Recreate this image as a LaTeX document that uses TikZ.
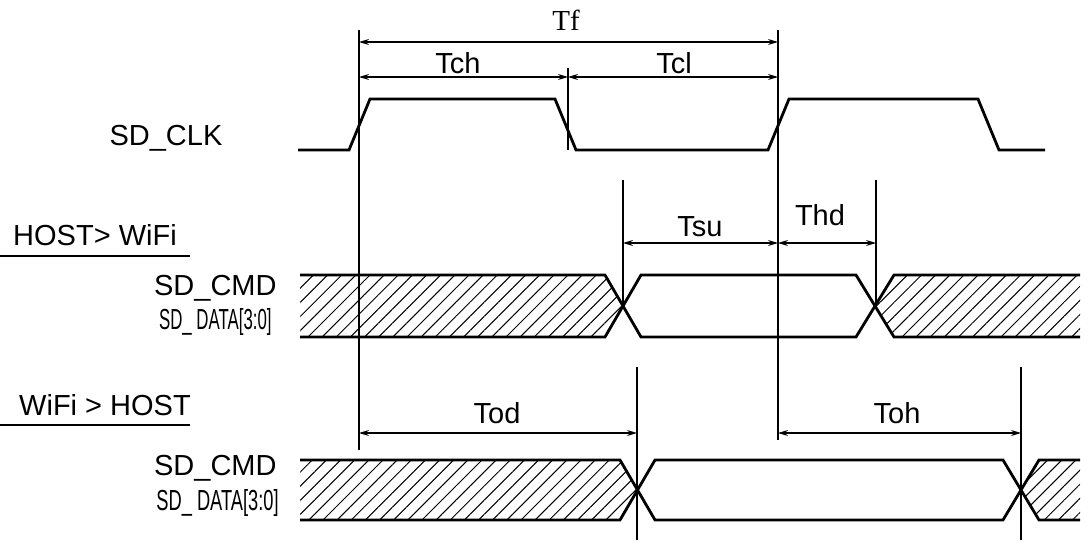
\documentclass[tikz,border=0pt]{standalone}
\usepackage{fontspec}
\setmainfont{Liberation Sans}
\usetikzlibrary{arrows.meta,patterns.meta}
\begin{document}
\begin{tikzpicture}[x=0.5pt,y=-0.5pt,
 sig/.style={line width=1.4pt},
 thin/.style={line width=0.6pt},
 dim/.style={line width=0.6pt,{Stealth[length=5pt,width=3pt]}-{Stealth[length=5pt,width=3pt]}},
 hatch/.style={pattern={Lines[angle=45,distance=5pt,line width=0.5pt]},pattern color=black},
 lbl/.style={font=\fontsize{14.5}{16}\selectfont,inner sep=0pt},
 rl/.style={lbl,anchor=east}]
\useasboundingbox (0,0) rectangle (1092,546);
% clock
\draw[sig] (298,150)--(349,150)--(370,99)--(555,99)--(576,150)--(768,150)--(789,99)--(978,99)--(999,150)--(1045,150);
\node[lbl] (clk) at (166,138) {SD\_CLK};
% verticals
\coordinate (a1) at (359,30); \coordinate (a2) at (359,450);
\coordinate (b1) at (568,68); \coordinate (b2) at (568,150);
\coordinate (c1) at (778,30); \coordinate (c2) at (778,440);
\coordinate (d1) at (623,180); \coordinate (d2) at (623,306);
\coordinate (e1) at (876,180); \coordinate (e2) at (876,306);
\coordinate (f1) at (637,367); \coordinate (f2) at (637,540);
\coordinate (g1) at (1021,367); \coordinate (g2) at (1021,540);
\foreach \p in {a,b,c,d,e,f,g} \draw[thin] (\p1)--(\p2);
% dims
\draw[dim] (359,42)--(778,42); \node[font=\fontsize{14.5}{16}\selectfont] (tf) at (566,20) {\fontspec{Liberation Serif}Tf};
\draw[dim] (359,77)--(568,77); \node[lbl] (tch) at (458,63) {Tch};
\draw[dim] (568,77)--(778,77); \node[lbl] (tcl) at (674,63) {Tcl};
\draw[dim] (623,243)--(778,243); \node[lbl] (tsu) at (700,227) {Tsu};
\draw[dim] (778,243)--(876,243); \node[lbl] (thd) at (820,215) {Thd};
\draw[dim] (359,433)--(637,433); \node[lbl] (tod) at (497,413) {Tod};
\draw[dim] (778,433)--(1021,433); \node[lbl] (toh) at (897,413) {Toh};
% section headings
\node[lbl] (h1) at (95,235) {HOST> WiFi}; \draw[thin] (0,256)--(190,256);
\node[lbl] (h2) at (105,405) {WiFi > HOST}; \draw[thin] (0,425)--(190,425);
\node[rl] (c1l) at (277,288) {SD\_CMD};
\node[rl] (d1l) at (272,322) {\scalebox{0.58}[1]{SD\_ DATA[3:0]}};
\node[rl] (c2l) at (277,468) {SD\_CMD};
\node[rl] (d2l) at (279,503) {\scalebox{0.63}[1]{SD\_ DATA[3:0]}};
% bus 1
\fill[hatch] (300,275)--(605,275)--(623,306)--(605,337)--(300,337)--cycle;
\fill[hatch] (1080,275)--(894,275)--(876,306)--(894,337)--(1080,337)--cycle;
\draw[sig] (300,275)--(605,275)--(641,337)--(856,337)--(894,275)--(1080,275);
\draw[sig] (300,337)--(605,337)--(641,275)--(856,275)--(894,337)--(1080,337);
% bus 2
\fill[hatch] (300,460)--(620,460)--(637,490)--(620,520)--(300,520)--cycle;
\fill[hatch] (1080,460)--(1039,460)--(1021,490)--(1039,520)--(1080,520)--cycle;
\draw[sig] (300,460)--(620,460)--(655,520)--(1003,520)--(1039,460)--(1080,460);
\draw[sig] (300,520)--(620,520)--(655,460)--(1003,460)--(1039,520)--(1080,520);
\end{tikzpicture}
\end{document}
